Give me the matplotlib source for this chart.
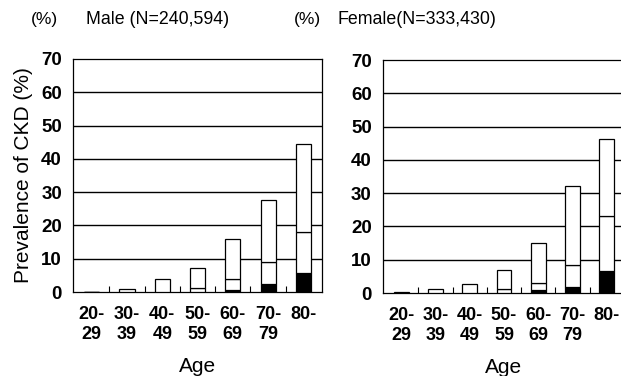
import numpy as np
import matplotlib
matplotlib.use("Agg")
import matplotlib.pyplot as plt

plt.rcParams['font.family'] = ['Liberation Sans', 'DejaVu Sans']

# age groups
ages = ['20-\n29', '30-\n39', '40-\n49', '50-\n59', '60-\n69', '70-\n79', '80-']

# prevalence of CKD (%), stacked: black bottom, middle, top
male_black = [0, 0, 0, 0, 0.5, 2.3, 5.8]
male_mid = [0, 0, 0, 1.1, 3.4, 6.6, 12.2]
male_total = [0.1, 1.0, 3.8, 7.2, 15.8, 27.6, 44.5]

female_black = [0, 0, 0, 0, 0.8, 1.9, 6.7]
female_mid = [0, 0, 0, 1.2, 2.2, 6.5, 16.3]
female_total = [0.3, 1.2, 2.8, 7.0, 15.0, 32.1, 46.3]

fig = plt.figure(figsize=(6.21, 3.76), dpi=100)
ax1 = fig.add_axes([0.1176, 0.2234, 0.401, 0.6197])
ax2 = fig.add_axes([0.6167, 0.2207, 0.3897, 0.6197])

x = np.arange(len(ages))
w = 0.43

def draw(ax, black, mid, total):
    black = np.array(black)
    mid = np.array(mid)
    top = np.array(total) - black - mid
    ax.bar(x, black, w, color='black', edgecolor='black', lw=0.9, zorder=3)
    ax.bar(x, mid, w, bottom=black, color='white', edgecolor='black', lw=0.9, zorder=3)
    ax.bar(x, top, w, bottom=black + mid, color='white', edgecolor='black', lw=0.9, zorder=3)
    ax.set_xlim(-0.53, 6.53)
    ax.set_ylim(0, 70)
    ax.set_yticks(range(0, 71, 10))
    ax.set_yticklabels([str(v) for v in range(0, 71, 10)], fontsize=13.5, fontweight='bold')
    ax.set_xticks(x)
    ax.set_xticklabels(ages, fontsize=13, fontweight='bold', linespacing=1.25)
    ax.set_xticks(x[:-1] + 0.5, minor=True)
    ax.tick_params(axis='y', which='major', length=0, pad=8)
    ax.tick_params(axis='x', which='minor', direction='in', length=4, width=0.8)
    ax.tick_params(axis='x', which='major', length=0, pad=10)
    for v in range(10, 70, 10):
        ax.axhline(v, color='black', lw=1.0, zorder=1)
    for s in ax.spines.values():
        s.set_linewidth(0.9)
    ax.set_xlabel('Age', fontsize=15, labelpad=10)

draw(ax1, male_black, male_mid, male_total)
draw(ax2, female_black, female_mid, female_total)

ax1.set_ylabel('Prevalence of CKD (%)', fontsize=15, labelpad=6)

fig.text(0.071, 0.948, '(%)', fontsize=12.5, ha='center', va='center')
fig.text(0.138, 0.948, 'Male (N=240,594)', fontsize=12.8, ha='left', va='center')
fig.text(0.495, 0.948, '(%)', fontsize=12.5, ha='center', va='center')
fig.text(0.543, 0.948, 'Female(N=333,430)', fontsize=12.8, ha='left', va='center')

fig.savefig('out.png', dpi=100)
